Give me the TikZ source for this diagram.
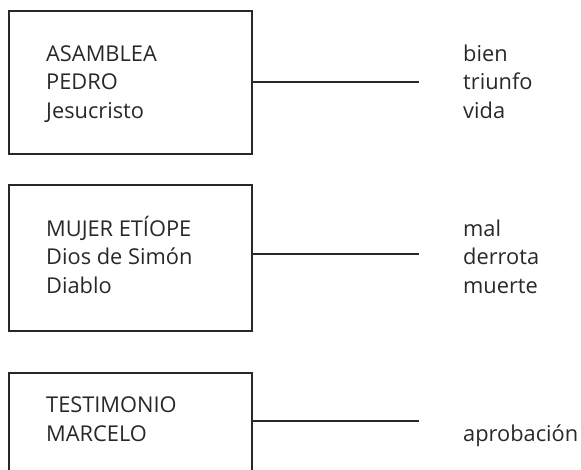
\documentclass[tikz,border=0pt]{standalone}
\usepackage{fontspec}
\setmainfont{Open Sans}
\usepackage{tikz}
\definecolor{ink}{RGB}{40,40,40}

\begin{document}
\begin{tikzpicture}[x=1pt, y=-1pt,
    cajon/.style={draw=ink, line width=1.2pt, minimum width=243pt, inner sep=0pt},
    linea/.style={draw=ink, line width=1.2pt},
    palabras/.style={anchor=base west, align=left, inner sep=0pt, text=ink,
        font=\fontsize{21.8}{28.5}\selectfont}]
    \path [use as bounding box, clip] (0,0) rectangle (581,469);
    % cajas
    \node [cajon, minimum height=143pt] (box1) at (130.5,82.5) {};
    \node [cajon, minimum height=146pt] (box2) at (130.5,258) {};
    \node [cajon, minimum height=146pt] (box3) at (130.5,446) {};
    \node [palabras] (izq1) at (46,118) {ASAMBLEA\\PEDRO\\Jesucristo};
    \node [palabras] (izq2) at (46,293) {MUJER ETÍOPE\\Dios de Simón\\Diablo};
    \node [palabras] (izq3) at (46,441) {TESTIMONIO\\MARCELO};
    % valores
    \node [palabras] (der1) at (463,118) {bien\\triunfo\\vida};
    \node [palabras] (der2) at (463,293) {mal\\derrota\\muerte};
    \node [palabras] (der3) at (463,441) {aprobación};
    % lineas
    \coordinate (fin1) at (419,82);
    \coordinate (fin2) at (419,254);
    \coordinate (fin3) at (419,421);
    \draw [linea] (box1.east |- fin1) -- (fin1);
    \draw [linea] (box2.east |- fin2) -- (fin2);
    \draw [linea] (box3.east |- fin3) -- (fin3);
\end{tikzpicture}
\end{document}
